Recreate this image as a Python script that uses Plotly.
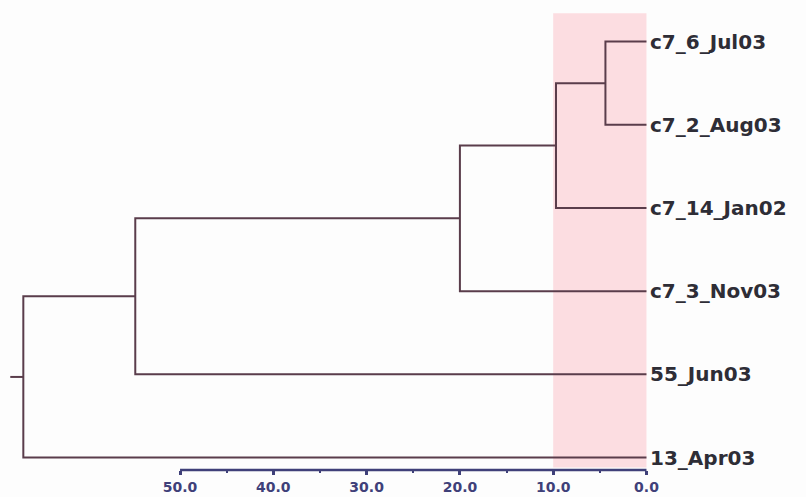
import plotly.graph_objects as go

# ---- data ----
leaf_labels = ["c7_6_Jul03", "c7_2_Aug03", "c7_14_Jan02", "c7_3_Nov03", "55_Jun03", "13_Apr03"]
leaf_rows = [0, 1, 2, 3, 4, 5]
# merges (left child, right child, height); internal nodes named N1..N5
merge_names = ["N1", "N2", "N3", "N4", "N5"]
merge_left = ["c7_6_Jul03", "N1", "N2", "N3", "N4"]
merge_right = ["c7_2_Aug03", "c7_14_Jan02", "c7_3_Nov03", "55_Jun03", "13_Apr03"]
merge_heights = [4.4, 9.7, 20.0, 54.8, 66.8]
root_stub = 68.2
tick_vals = [0, 10, 20, 30, 40, 50]
tick_text = ["0.0", "10.0", "20.0", "30.0", "40.0", "50.0"]
minor_tick_vals = [5, 15, 25, 35, 45]
highlight_band = [0, 10]

# ---- build tree geometry ----
pos = {lab: (0.0, r) for lab, r in zip(leaf_labels, leaf_rows)}
xs, ys = [], []
for name, a, b, h in zip(merge_names, merge_left, merge_right, merge_heights):
    ha, ya = pos[a]
    hb, yb = pos[b]
    xs += [ha, h, h, hb, None]
    ys += [ya, ya, yb, yb, None]
    pos[name] = (h, (ya + yb) / 2)
rh, ry = pos[merge_names[-1]]
xs += [rh, root_stub, None]
ys += [ry, ry, None]

LINE = "#5a3d4b"
NAVY = "#3f4079"

fig = go.Figure()
fig.add_trace(go.Scatter(x=xs, y=ys, mode="lines",
                         line=dict(color=LINE, width=2), hoverinfo="skip",
                         showlegend=False))

fig.add_shape(type="rect", x0=highlight_band[0], x1=highlight_band[1],
              y0=-0.34, y1=5.12, xref="x", yref="y",
              fillcolor="#fcdde1", line=dict(width=0), layer="below")
fig.add_shape(type="line", x0=tick_vals[0], x1=tick_vals[-1], y0=0, y1=0,
              xref="x", yref="paper", line=dict(color=NAVY, width=2.5))

for lab, r in zip(leaf_labels, leaf_rows):
    fig.add_annotation(x=0, y=r, text=lab, showarrow=False, xanchor="left",
                       yanchor="middle", xshift=2,
                       font=dict(family="DejaVu Sans", size=20, color="#2e2d36",
                                 weight="bold"))

fig.update_xaxes(range=[69.3, -17.1], tickvals=tick_vals, ticktext=tick_text,
                 ticks="outside", ticklen=4, tickwidth=3, tickcolor=NAVY,
                 showgrid=False, zeroline=False, showline=False, automargin=False,
                 tickfont=dict(family="DejaVu Sans", size=14, color=NAVY, weight="bold"),
                 minor=dict(tickvals=minor_tick_vals, ticks="outside", ticklen=2,
                            tickwidth=2, tickcolor=NAVY, showgrid=False))
fig.update_yaxes(range=[5.15, -0.5], visible=False, showgrid=False, zeroline=False,
                 automargin=False)

fig.update_layout(width=806, height=497, margin=dict(l=0, r=0, t=0, b=27, autoexpand=False),
                  plot_bgcolor="#fdfdfd", paper_bgcolor="#fdfdfd")

fig.write_html("out.html")
